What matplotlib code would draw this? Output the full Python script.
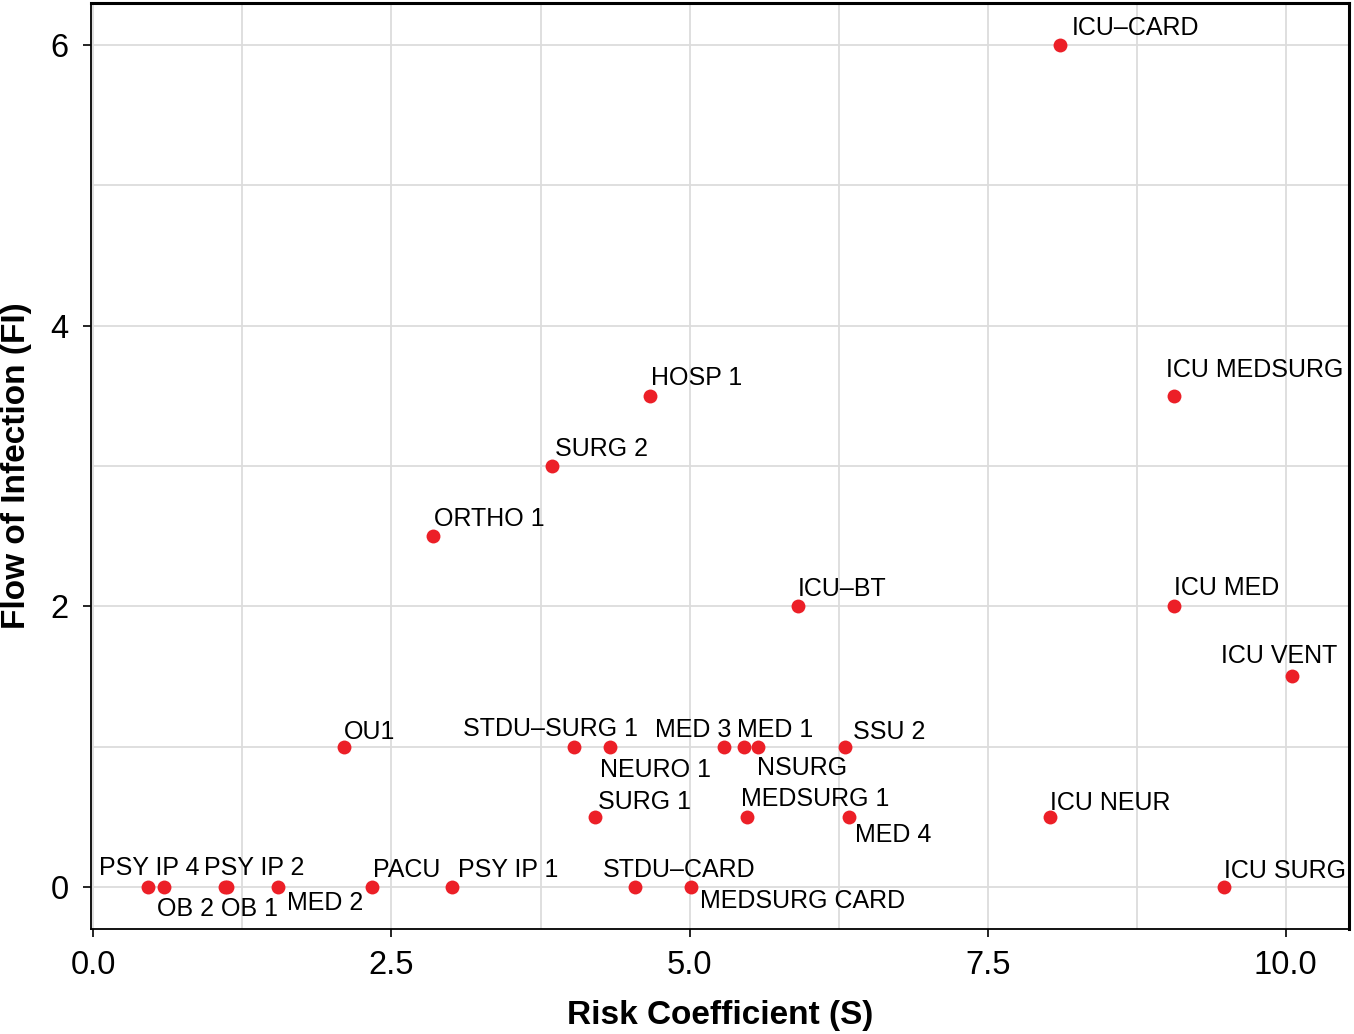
import matplotlib
matplotlib.use("Agg")
import matplotlib.pyplot as plt

units = ["ICU\u2013CARD", "ICU MEDSURG", "HOSP 1", "SURG 2", "ORTHO 1", "ICU\u2013BT",
         "ICU MED", "ICU VENT", "OU1", "STDU\u2013SURG 1", "NEURO 1", "MED 3", "MED 1",
         "NSURG", "SSU 2", "SURG 1", "MEDSURG 1", "MED 4", "ICU NEUR", "PSY IP 4",
         "OB 2", "PSY IP 2", "OB 1", "MED 2", "PACU", "PSY IP 1", "STDU\u2013CARD",
         "MEDSURG CARD", "ICU SURG"]
risk = [8.11, 9.06, 4.67, 3.85, 2.85, 5.91,
        9.06, 10.05, 2.10, 4.03, 4.33, 5.29, 5.46,
        5.57, 6.30, 4.21, 5.48, 6.34, 8.02, 0.46,
        0.59, 1.12, 1.10, 1.55, 2.34, 3.01, 4.54,
        5.01, 9.48]
flow = [6, 3.5, 3.5, 3, 2.5, 2,
        2, 1.5, 1, 1, 1, 1, 1,
        1, 1, 0.5, 0.5, 0.5, 0.5, 0,
        0, 0, 0, 0, 0, 0, 0,
        0, 0]

# label offsets in pixels (left edge of text, vertical centre) relative to each point
label_dx = [11, -8, 1, 3, 1, 0,
            0, -71, 0, -111, -10, -69, -7,
            -1, 8, 3, -6, 6, 0, -49,
            -7, -23, -4, 9, 1, 6, -32,
            9, 0]
label_dy = [17, 26, 18, 17, 17, 17,
            18, 20, 15, 18, -23, 17, 17,
            -21, 15, 15, 18, -18, 14, 19,
            -22, 19, -22, -16, 17, 17, 17,
            -14, 16]

plt.rcParams['font.family'] = ['Liberation Sans', 'DejaVu Sans']

fig = plt.figure(figsize=(13.54, 10.34), dpi=100)
ax = fig.add_axes([0.0672, 0.1015, 0.9291, 0.8956])

ax.scatter(risk, flow, s=100, color='#EC1F27', zorder=3, linewidths=0)

for name, x, y, dx, dy in zip(units, risk, flow, label_dx, label_dy):
    ax.annotate(name, (x, y), xytext=(dx, dy), textcoords='offset pixels',
                ha='left', va='center', fontsize=18, color='black', zorder=4)

ax.set_xlim(-0.02, 10.53)
ax.set_ylim(-0.3, 6.3)
ax.set_xticks([0, 2.5, 5, 7.5, 10])
ax.set_xticklabels(["0.0", "2.5", "5.0", "7.5", "10.0"])
ax.set_yticks([0, 2, 4, 6])
ax.set_xticks([1.25, 3.75, 6.25, 8.75], minor=True)
ax.set_yticks([1, 3, 5], minor=True)
ax.grid(True, which='both', color='#DCDCDC', linewidth=1.3, zorder=0)
ax.tick_params(axis='both', which='major', labelsize=23.5, length=6, width=1.2,
               color='black')
ax.tick_params(axis='x', which='major', pad=9)
ax.tick_params(axis='y', which='major', pad=10)
ax.tick_params(axis='both', which='minor', length=0)
for side in ['left', 'bottom']:
    ax.spines[side].set_linewidth(1.3)
for side in ['top', 'right']:
    ax.spines[side].set_linewidth(2.2)
ax.set_axisbelow(True)

ax.set_xlabel("Risk Coefficient (S)", fontsize=24, fontweight='bold', labelpad=14)
ax.set_ylabel("Flow of Infection (FI)", fontsize=24, fontweight='bold', va='center')
ax.yaxis.set_label_coords(-0.0595, 0.5)

fig.savefig("out.png", dpi=100)
